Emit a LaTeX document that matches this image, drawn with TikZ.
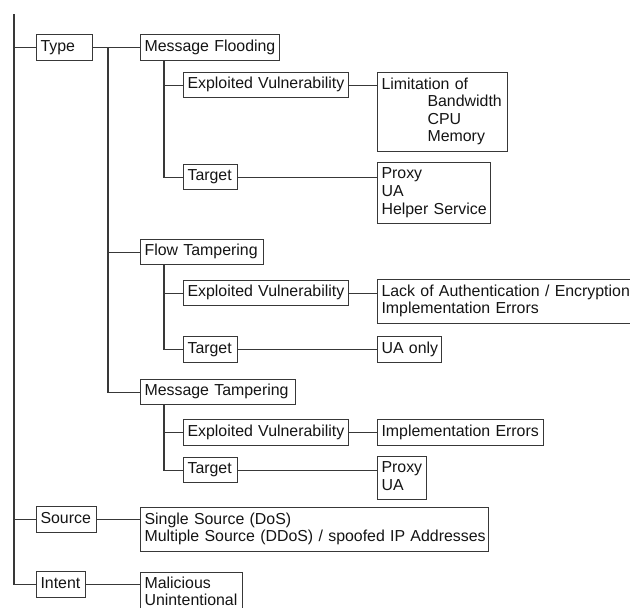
\documentclass[tikz,border=0pt]{standalone}
\usepackage{fontspec}
\setmainfont{Liberation Sans}
\begin{document}
\begin{tikzpicture}[x=1pt,y=-1pt,
  ln/.style={draw=black!78, line width=1.1pt},
  bx/.style={ln, anchor=north west, inner xsep=4pt, inner ysep=1pt, align=left,
    text=black!92, font=\fontsize{15.9}{17.6}\selectfont},
]
\useasboundingbox (0,0) rectangle (630,608);
\clip (0,0) rectangle (630,608);
\newcommand{\bxnode}[6]{% name, x, y, w, h, text
  \node[bx, minimum width=#4pt, minimum height=#5pt, text width=#4pt-8pt] (#1) at (#2,#3)
    {\begin{tabular}{@{}l@{}}#6\end{tabular}};}
\bxnode{type}{36}{34}{56}{26}{Type}
\bxnode{mf}{140}{34}{139}{26}{Message Flooding}
\bxnode{ev1}{183}{72}{165}{25}{Exploited Vulnerability}
\bxnode{lim}{377}{72}{130}{79}{Limitation of\\\hspace*{46pt}Bandwidth\\\hspace*{46pt}CPU\\\hspace*{46pt}Memory}
\bxnode{tg1}{183}{164}{54}{25}{Target}
\bxnode{prx1}{377}{162}{113}{61}{Proxy\\UA\\Helper Service}
\bxnode{ft}{140}{239}{123}{25}{Flow Tampering}
\bxnode{ev2}{183}{280}{165}{25}{Exploited Vulnerability}
\bxnode{lack}{377}{279}{300}{44}{Lack of Authentication / Encryption\\Implementation Errors}
\bxnode{tg2}{183}{336}{54}{26}{Target}
\bxnode{uaonly}{377}{336}{64}{26}{UA only}
\bxnode{mt}{140}{379}{155}{25}{Message Tampering}
\bxnode{ev3}{183}{419}{165}{26}{Exploited Vulnerability}
\bxnode{ie}{377}{419}{166}{26}{Implementation Errors}
\bxnode{tg3}{183}{457}{54}{25}{Target}
\bxnode{prx3}{377}{456}{49}{43}{Proxy\\UA}
\bxnode{src}{36}{506}{60}{26}{Source}
\bxnode{ss}{140}{507}{348}{44}{Single Source (DoS)\\Multiple Source (DDoS) / spoofed IP Addresses}
\bxnode{intent}{36}{571}{49}{26}{Intent}
\bxnode{mal}{140}{572}{102}{42}{Malicious\\Unintentional}
% trunk
\coordinate (top) at (14,14);
\coordinate (tx) at (108,0);
\coordinate (v1) at (164,0);
\draw[ln] (top) |- (intent.west);
\draw[ln] (type.west -| top) -- (type.west);
\draw[ln] (src.west -| top) -- (src.west);
% type branches
\draw[ln] (type.east) -- (type.east -| mf.west);
\draw[ln] (type.east -| tx) |- (mt.west);
\draw[ln] (ft.west -| tx) -- (ft.west);
% message flooding
\draw[ln] (mf.south -| v1) |- (tg1.west);
\draw[ln] (ev1.west -| v1) -- (ev1.west);
\draw[ln] (ev1.east) -- (ev1.east -| lim.west);
\draw[ln] (tg1.east) -- (tg1.east -| prx1.west);
% flow tampering
\draw[ln] (ft.south -| v1) |- (tg2.west);
\draw[ln] (ev2.west -| v1) -- (ev2.west);
\draw[ln] (ev2.east) -- (ev2.east -| lack.west);
\draw[ln] (tg2.east) -- (tg2.east -| uaonly.west);
% message tampering
\draw[ln] (mt.south -| v1) |- (tg3.west);
\draw[ln] (ev3.west -| v1) -- (ev3.west);
\draw[ln] (ev3.east) -- (ev3.east -| ie.west);
\draw[ln] (tg3.east) -- (tg3.east -| prx3.west);
% source, intent
\draw[ln] (src.east) -- (src.east -| ss.west);
\draw[ln] (intent.east) -- (intent.east -| mal.west);
\end{tikzpicture}
\end{document}
